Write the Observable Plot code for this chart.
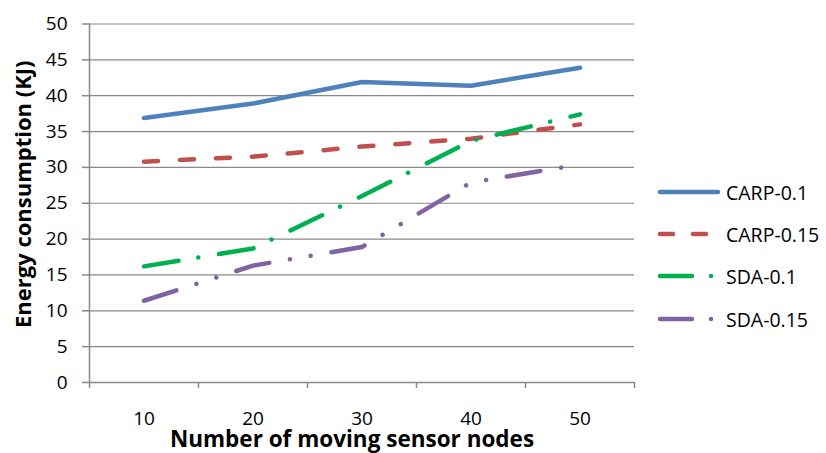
<!DOCTYPE html>
<html>
<head>
<meta charset="utf-8">
<script src="https://cdn.jsdelivr.net/npm/d3@7"></script>
<script src="https://cdn.jsdelivr.net/npm/@observablehq/plot@0.6"></script>
<style>
  html, body { margin: 0; padding: 0; background: #fff; }
  #wrap { position: relative; width: 826px; height: 453px; font-family: "Open Sans", sans-serif; }
  #legend { position: absolute; left: 656px; top: 0; }
  .row { position: absolute; left: 0; height: 30px; display: flex; align-items: center; white-space: nowrap; font-size: 19.5px; color: #000; }
  .row svg { margin-right: 4px; }
</style>
</head>
<body>
<div id="wrap"><div id="legend"></div></div>
<script>
const categories = [10, 20, 30, 40, 50];
const seriesNames = ["CARP-0.1", "CARP-0.15", "SDA-0.1", "SDA-0.15"];
const carp01 = [36.9, 38.9, 41.9, 41.4, 43.9];
const carp015 = [30.8, 31.5, 32.9, 34.0, 36.0];
const sda01 = [16.2, 18.7, 26.0, 33.7, 37.4];
const sda015 = [11.4, 16.3, 18.9, 27.9, 30.4];
const yTicks = [0, 5, 10, 15, 20, 25, 30, 35, 40, 45, 50];
const xTickBoundaries = [5, 15, 25, 35, 45, 55];

const colors = ["#4F81BD", "#C0504D", "#00B050", "#8064A2"];
const dashes = [null, "14,22", "35,20,0.01,21", "34,21,0.01,21,0.01,21"];
const values = [carp01, carp015, sda01, sda015];

const gridColor = "#898989";

const lineMarks = values.map((vals, i) => {
  const data = categories.map((c, j) => ({x: c, y: vals[j]}));
  return Plot.line(data, {
    x: "x", y: "y",
    stroke: colors[i], strokeWidth: 4.5,
    strokeDasharray: dashes[i] || undefined,
    strokeLinecap: "round", strokeLinejoin: "round"
  });
});

const chart = Plot.plot({
  width: 826,
  height: 453,
  marginLeft: 89,
  marginRight: 192,
  marginTop: 23.5,
  marginBottom: 71,
  style: {fontFamily: "'Open Sans', sans-serif", fontSize: "19px", color: "#000", background: "#fff", overflow: "visible"},
  x: {domain: [5, 55]},
  y: {domain: [0, 50]},
  marks: [
    Plot.gridY(yTicks, {stroke: gridColor, strokeOpacity: 1, strokeWidth: 1.2}),
    Plot.ruleX([5], {stroke: gridColor, strokeWidth: 1.5}),
    Plot.ruleY([0], {stroke: gridColor, strokeWidth: 1.5}),
    Plot.axisY(yTicks, {tickSize: 7, tickPadding: 15, stroke: gridColor, strokeWidth: 1.5, fontSize: 19, label: null}),
    Plot.axisX(xTickBoundaries, {tickSize: 6, tickFormat: () => "", stroke: gridColor, strokeWidth: 1.5, label: null}),
    Plot.axisX(categories, {tickSize: 0, tickPadding: 29, fontSize: 19, label: null}),
    ...lineMarks,
    Plot.text(["Number of moving sensor nodes"], {
      frameAnchor: "bottom", lineAnchor: "bottom", dy: 64, dx: -10,
      fontWeight: "bold", fontSize: 22.5, fill: "#000"
    }),
    Plot.text(["Energy consumption (KJ)"], {
      frameAnchor: "left", textAnchor: "middle", rotate: -90, lineAnchor: "middle", dx: -66, dy: -9,
      fontWeight: "bold", fontSize: 22, fill: "#000"
    })
  ]
});
document.getElementById("wrap").prepend(chart);

const legend = document.getElementById("legend");
const rowCenters = [192, 234, 276, 319];
seriesNames.forEach((name, i) => {
  const row = document.createElement("div");
  row.className = "row";
  row.style.top = (rowCenters[i] - 15) + "px";
  const ns = "http://www.w3.org/2000/svg";
  const svg = document.createElementNS(ns, "svg");
  svg.setAttribute("width", 66);
  svg.setAttribute("height", 10);
  const ln = document.createElementNS(ns, "line");
  ln.setAttribute("x1", 4); ln.setAttribute("x2", 62);
  ln.setAttribute("y1", 5); ln.setAttribute("y2", 5);
  ln.setAttribute("stroke", colors[i]);
  ln.setAttribute("stroke-width", 4.5);
  ln.setAttribute("stroke-linecap", "round");
  if (dashes[i]) ln.setAttribute("stroke-dasharray", i === 1 ? "13,20" : "32,19,0.01,40");
  svg.appendChild(ln);
  row.appendChild(svg);
  const t = document.createElement("span");
  t.textContent = name;
  row.appendChild(t);
  legend.appendChild(row);
});
</script>
</body>
</html>
